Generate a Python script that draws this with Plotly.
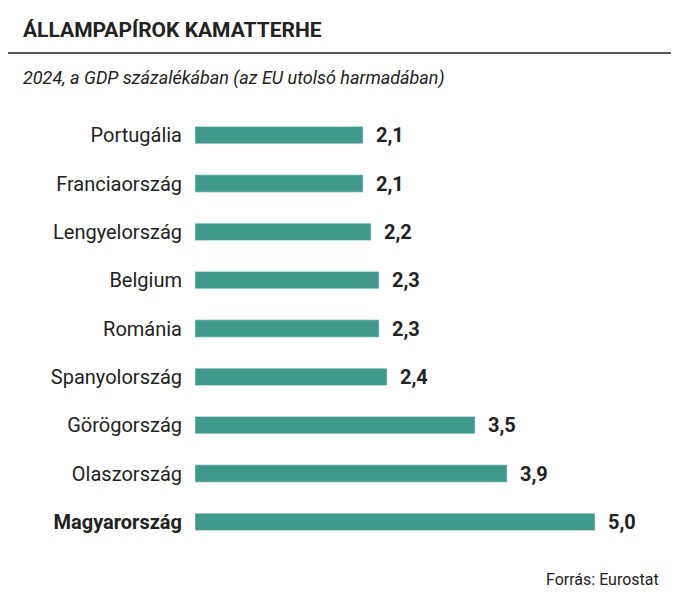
import plotly.graph_objects as go

countries = ["Portugália","Franciaország","Lengyelország","Belgium","Románia",
             "Spanyolország","Görögország","Olaszország","Magyarország"]
values = [2.1,2.1,2.2,2.3,2.3,2.4,3.5,3.9,5.0]
labels = [f"{v:.1f}".replace(".", ",") for v in values]
ticks = [f"<b>{c}</b>" if c == "Magyarország" else c for c in countries]

color = "#3f9a8a"
fig = go.Figure(go.Bar(
    x=values, y=countries, orientation="h", marker_color=color, width=0.36,
    text=[f"  <b>{l}</b>" for l in labels], textposition="outside", constraintext="none",
    textfont=dict(size=20, color="#222", family="Roboto"), cliponaxis=False))
fig.update_layout(
    width=679, height=599, plot_bgcolor="white", paper_bgcolor="white",
    margin=dict(l=187, r=44, t=103, b=61, pad=0), showlegend=False,
    font=dict(family="Roboto", color="#222"),
    xaxis=dict(range=[0, 5.6], visible=False),
    yaxis=dict(autorange="reversed", tickmode="array", tickvals=countries, ticktext=ticks,
               tickfont=dict(size=20, color="#222"), ticks="", ticklabelstandoff=12,
               showline=False, showgrid=False, automargin=False),
    shapes=[dict(type="line", xref="paper", yref="paper", x0=-187/448, x1=1+44/448,
                 y0=1+58/435, y1=1+58/435, line=dict(color="#222", width=1.5))],
    annotations=[
        dict(text="<b>ÁLLAMPAPÍROK KAMATTERHE</b>", xref="paper", yref="paper",
             x=-174/448, y=1+81/435, xanchor="left", yanchor="middle", showarrow=False,
             font=dict(size=21, color="#222")),
        dict(text="<i>2024, a GDP százalékában (az EU utolsó harmadában)</i>", xref="paper", yref="paper",
             x=-174/448, y=1+33/435, xanchor="left", yanchor="middle", showarrow=False,
             font=dict(size=18, color="#222")),
        dict(text="Forrás: Eurostat", xref="paper", yref="paper", x=1+18/448, y=-33/435,
             xanchor="right", yanchor="middle", showarrow=False, font=dict(size=16, color="#222")),
    ])
fig.write_html("out.html")
